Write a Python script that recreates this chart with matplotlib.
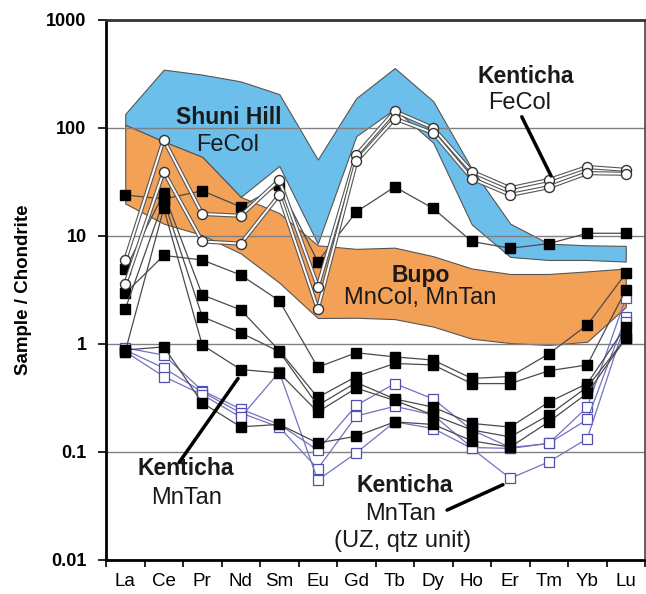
import numpy as np
import matplotlib
matplotlib.use('Agg')
import matplotlib.pyplot as plt
import matplotlib.patheffects as pe
from matplotlib.ticker import NullLocator

plt.rcParams['font.family'] = ['Liberation Sans', 'DejaVu Sans']

ree = ['La', 'Ce', 'Pr', 'Nd', 'Sm', 'Eu', 'Gd', 'Tb', 'Dy', 'Ho', 'Er', 'Tm', 'Yb', 'Lu']

# field outlines (upper / lower envelope per element)
shuni_hi = [135, 347, 312, 270, 206, 51, 189, 359, 177, 42, 13, 8.5, 8.2, 8.1]
shuni_lo = [107, 75, 54, 23, 44.5, 8.5, 84, 150, 73, 12.8, 6.4, 6.0, 6.0, 5.8]
bupo_hi = [107, 75, 54, 23, 16.3, 8.2, 7.6, 7.8, 6.5, 5.0, 4.45, 4.45, 4.7, 5.0]
bupo_lo = [20, 13, 10.2, 6.9, 3.7, 1.74, 1.75, 1.7, 1.45, 1.12, 1.02, 0.98, 1.05, 2.2]

# Kenticha FeCol (open circles)
fecol_1 = [6.0, 78, 16, 15.4, 33, 3.4, 56, 143, 100, 39.5, 27.7, 33, 43.5, 41]
fecol_2 = [3.6, 39.5, 8.9, 8.5, 24, 2.1, 49, 122, 90, 34, 24, 28.3, 38.2, 37.7]

# Kenticha MnTan (filled squares)
mntan_1 = [24, 22, 26.2, 18.6, 29.5, 5.8, 16.7, 28.5, 18, 8.9, 7.7, 8.5, 10.6, 10.6]
mntan_2 = [2.95, 6.6, 6.0, 4.35, 2.52, 0.61, 0.83, 0.76, 0.71, 0.48, 0.50, 0.81, 1.5, 4.5]
mntan_3 = [4.9, 24.8, 2.85, 2.07, 0.87, 0.32, 0.50, 0.66, 0.64, 0.43, 0.43, 0.565, 0.64, 3.16]
mntan_4 = [2.1, 21.4, 1.79, 1.27, 0.85, 0.27, 0.44, 0.31, 0.26, 0.184, 0.17, 0.29, 0.43, 1.45]
mntan_5 = [0.85, 18, 0.98, 0.58, 0.54, 0.235, 0.39, 0.30, 0.22, 0.16, 0.138, 0.22, 0.40, 1.13]
mntan_6 = [0.88, 0.94, 0.285, 0.171, 0.18, 0.121, 0.14, 0.19, 0.18, 0.127, 0.111, 0.19, 0.35, 1.13]

# Kenticha MnTan, UZ quartz unit (open squares)
uz_1 = [0.92, 0.79, 0.37, 0.25, 0.18, 0.104, 0.27, 0.43, 0.31, 0.16, 0.11, 0.12, 0.26, 2.65]
uz_2 = [0.88, 0.60, 0.36, 0.23, 0.17, 0.07, 0.215, 0.265, 0.22, 0.11, 0.108, 0.12, 0.20, 1.77]
uz_3 = [0.85, 0.50, 0.34, 0.21, 0.55, 0.055, 0.098, 0.19, 0.165, 0.108, 0.057, 0.081, 0.133, 1.6]

fecol = [fecol_1, fecol_2]
mntan = [mntan_1, mntan_2, mntan_3, mntan_4, mntan_5, mntan_6]
uz = [uz_1, uz_2, uz_3]

fig = plt.figure(figsize=(6.46, 5.94), dpi=100)
ax = fig.add_axes([106 / 646, 1 - 560 / 594, 539 / 646, 540 / 594])
x = np.arange(len(ree))

ax.fill_between(x, shuni_lo, shuni_hi, facecolor='#6cbeeb', edgecolor='#555555', lw=0.8, zorder=1)
ax.fill_between(x, bupo_lo, bupo_hi, facecolor='#f2a157', edgecolor='#555555', lw=0.8, zorder=1.2)

for s in uz:
    ax.plot(x, s, color='#7272c0', lw=0.9, marker='s', ms=6.8, mfc='white', mec='#5050b0', mew=0.9, zorder=3)
for s in mntan:
    ax.plot(x, s, color='#4a4a4a', lw=0.9, marker='s', ms=6.8, mfc='black', mec='black', zorder=4)
for s in fecol:
    ax.plot(x, s, color='white', lw=1.4, zorder=5,
            path_effects=[pe.Stroke(linewidth=3.0, foreground='#555555'), pe.Normal()])
    ax.plot(x, s, ls='none', marker='o', ms=7.2, mfc='white', mec='#333333', mew=1.0, zorder=6)

ax.set_yscale('log')
ax.set_ylim(0.01, 1000)
ax.set_xlim(-0.5, 13.5)
ax.set_yticks([0.01, 0.1, 1, 10, 100, 1000])
ax.set_yticklabels(['0.01', '0.1', '1', '10', '100', '1000'], fontsize=13, fontweight='bold')
ax.yaxis.set_minor_locator(NullLocator())
ax.set_xticks(x)
ax.set_xticklabels(ree, fontsize=13.5)
ax.set_xticks(np.arange(-0.5, 14, 1), minor=True)
ax.tick_params(axis='x', which='major', length=0, pad=9)
ax.tick_params(axis='x', which='minor', length=5, width=1.2, direction='out')
ax.tick_params(axis='y', which='major', length=6, width=1.2, direction='out', pad=8)

ax.set_axisbelow('line')
ax.yaxis.grid(True, which='major', color='#808080', lw=1.0)

for side, w, c in [('left', 2.0, 'black'), ('bottom', 2.0, 'black'), ('top', 2.0, '#333333'), ('right', 1.2, '#444444')]:
    ax.spines[side].set_linewidth(w)
    ax.spines[side].set_color(c)
    ax.spines[side].set_zorder(7)

ax.set_ylabel('Sample / Chondrite', fontsize=13.5, fontweight='bold', labelpad=10)

tc = '#1a1a1a'
bold_kw = dict(ha='center', va='center', fontsize=16.5, fontweight='bold', color=tc, zorder=8)
reg_kw = dict(ha='center', va='center', fontsize=17, color=tc, zorder=8)
ax.text(2.69, 124, 'Shuni Hill', **bold_kw)
ax.text(2.67, 70, 'FeCol', **reg_kw)
ax.text(10.41, 299, 'Kenticha', **bold_kw)
ax.text(10.25, 172, 'FeCol', **reg_kw)
ax.text(7.68, 4.35, 'Bupo', **bold_kw)
ax.text(7.66, 2.65, 'MnCol, MnTan', **reg_kw)
ax.text(1.58, 0.070, 'Kenticha', **bold_kw)
ax.text(1.60, 0.0378, 'MnTan', **reg_kw)
ax.text(7.27, 0.0488, 'Kenticha', **bold_kw)
ax.text(7.14, 0.0268, 'MnTan', **reg_kw)
ax.text(7.21, 0.0150, '(UZ, qtz unit)', **reg_kw)

# leader lines from labels to the patterns
for start, end in [((10.3, 127), (11.06, 36)), ((1.40, 0.080), (2.93, 0.48)), ((8.36, 0.029), (9.81, 0.0498))]:
    ax.annotate('', xy=end, xytext=start,
                arrowprops=dict(arrowstyle='-', lw=2.5, color='black', shrinkA=0, shrinkB=0), zorder=8)

fig.savefig('out.png', dpi=100)
